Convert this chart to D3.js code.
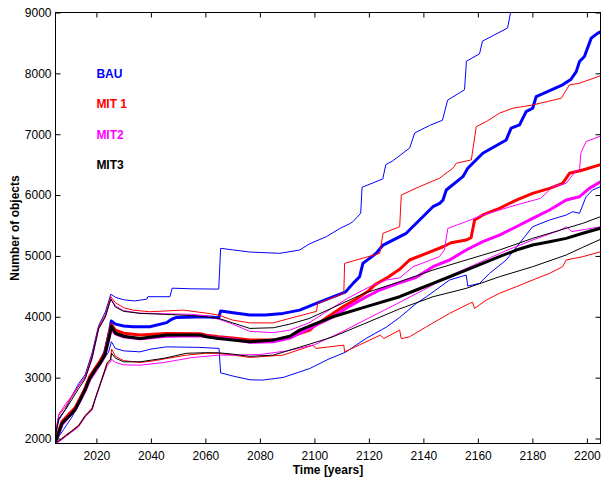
<!DOCTYPE html>
<html>
<head>
<meta charset="utf-8">
<script src="https://cdn.jsdelivr.net/npm/d3@7/dist/d3.min.js"></script>
<style>
  html, body { margin: 0; padding: 0; background: #fff; }
  svg { display: block; }
  text { font-family: "Liberation Sans", Arial, Helvetica, sans-serif; }
</style>
</head>
<body>
<svg id="chart" width="602" height="482"></svg>
<script>
// Simulated number of objects per scenario: mean (thick) and spread bounds (thin).
// Each series is a list of [year, objects].

const bauHigh = [[2005,2050],[2006.2,2300],[2008.6,2480],[2011,2700],[2013.5,2900],[2015.9,3050],[2018.4,3400],[2020.8,3850],[2023.3,4080],[2025.3,4370],[2027,4320],[2030,4280],[2034,4260],[2038.5,4290],[2038.9,4330],[2047,4330],[2047.8,4470],[2055,4460],[2064.9,4455],[2065.6,5125],[2070,5100],[2076.3,5064],[2087.3,5043],[2094.6,5097],[2098.3,5200],[2104.4,5316],[2109.3,5450],[2113,5530],[2114.1,5562],[2117,5700],[2117.5,6128],[2125.1,6265],[2126.2,6500],[2128.7,6560],[2135,6775],[2136.8,7020],[2142.3,7145],[2147,7230],[2148.9,7560],[2155.1,7730],[2155.8,8200],[2160.6,8320],[2161.7,8530],[2170.9,8745],[2172,9000],[2174,9100]];
const bauMean = [[2005,1950],[2007.4,2250],[2010.3,2400],[2012.1,2480],[2014,2640],[2015.8,2800],[2017.6,3000],[2019.5,3130],[2021.3,3260],[2023.1,3420],[2025,3800],[2025.5,3930],[2027,3880],[2030,3850],[2033.5,3836],[2039.6,3836],[2045.8,3904],[2047.6,3960],[2049.4,3990],[2060.4,4000],[2064.9,3984],[2065.6,4094],[2070.2,4066],[2076.3,4028],[2082,4030],[2088.5,4056],[2094.6,4110],[2100.7,4220],[2106.8,4329],[2111.5,4411],[2114.2,4549],[2116.6,4658],[2117.8,4878],[2122.7,5043],[2125.2,5179],[2133.7,5372],[2138.6,5590],[2143.5,5809],[2146,5864],[2147.2,5918],[2148.4,6084],[2154.5,6303],[2156.3,6441],[2161.8,6688],[2170.4,6906],[2172.2,7099],[2175.3,7153],[2177.7,7372],[2180.1,7427],[2181.4,7618],[2191.1,7811],[2194.2,7904],[2196.1,8029],[2197.3,8194],[2199.1,8276],[2201.6,8579],[2204,8661],[2205,8680]];
const bauLow = [[2005,1950],[2008,2150],[2011,2350],[2014,2600],[2017,2900],[2020,3150],[2023,3330],[2024.5,3420],[2025.5,3590],[2027,3480],[2030,3440],[2036,3424],[2040,3470],[2045.8,3506],[2058,3497],[2065,3480],[2065.6,3080],[2070.2,3025],[2076.3,2965],[2081,2960],[2088.5,3003],[2098.3,3150],[2105,3300],[2111.5,3420],[2119,3645],[2126.4,3830],[2131.3,3990],[2137.4,4220],[2141.1,4329],[2149.6,4604],[2155.7,4686],[2156.3,4505],[2160.6,4549],[2164.3,4714],[2170.4,4933],[2180.1,5480],[2186.3,5590],[2192.4,5672],[2194.8,5727],[2197.3,5700],[2199.7,5973],[2202.1,6084],[2205,6139]];

const mit1High = [[2005,2100],[2006.2,2380],[2008.6,2520],[2011,2680],[2013.5,2860],[2015.9,3020],[2018.4,3350],[2020.8,3830],[2023.3,4030],[2025.3,4330],[2027,4230],[2030,4150],[2033.3,4110],[2039.6,4083],[2051.9,4110],[2060.4,4060],[2064.9,4028],[2070,3946],[2076.3,3900],[2084.9,3900],[2091,3974],[2098.3,4060],[2100.8,4090],[2101.2,4220],[2110.8,4385],[2111.1,4878],[2124,5043],[2125.2,5372],[2131.3,5480],[2131.9,6000],[2138.6,6139],[2145.9,6276],[2150.8,6441],[2152.1,6523],[2157.6,6578],[2159.4,7125],[2163.1,7207],[2167.9,7345],[2172.8,7427],[2180.1,7481],[2190.6,7591],[2193.6,7811],[2197.3,7838],[2205,7960]];
const mit1Mean = [[2005,1970],[2007.4,2280],[2010.3,2420],[2012.1,2500],[2014,2660],[2015.8,2820],[2017.6,3020],[2019.5,3150],[2021.3,3270],[2023.1,3400],[2025,3780],[2025.5,3870],[2027,3780],[2030,3730],[2036,3700],[2045.8,3727],[2058,3720],[2060.4,3699],[2064.9,3671],[2070,3650],[2076.3,3617],[2084.9,3617],[2091,3671],[2098.3,3781],[2100,3850],[2105,4000],[2110,4150],[2115,4280],[2120,4430],[2122,4520],[2127,4650],[2131.3,4780],[2134.9,4933],[2141.1,5043],[2147.2,5151],[2150.2,5217],[2155.7,5261],[2157.5,5300],[2158.8,5590],[2161.8,5673],[2167.9,5783],[2174.1,5918],[2180.1,6028],[2186.3,6110],[2191.1,6193],[2193.6,6358],[2198.5,6412],[2205,6500]];
const mit1Low = [[2005,1930],[2006.2,1960],[2008.6,2050],[2011,2130],[2013.5,2220],[2015.9,2380],[2018.4,2500],[2019.5,2650],[2022,2980],[2024,3250],[2025.2,3300],[2025.6,3470],[2027,3350],[2030,3280],[2036,3250],[2040,3270],[2053,3370],[2060,3400],[2065,3400],[2070.2,3370],[2076.3,3332],[2088.5,3370],[2099.5,3534],[2100.5,3480],[2110.8,3534],[2111.1,3424],[2124.2,3699],[2125.5,3644],[2131.3,3781],[2131.9,3640],[2134.9,3671],[2141.1,3836],[2149.6,4056],[2157,4220],[2158,4240],[2158.8,4138],[2163.1,4275],[2167.9,4385],[2174.1,4494],[2180.1,4604],[2186.3,4714],[2191.1,4823],[2192.4,4933],[2198.5,4988],[2205,5069]];

const mit2High = [[2005,2080],[2006.2,2400],[2008.6,2560],[2011,2700],[2013.5,2870],[2015.9,3000],[2018.4,3300],[2020.8,3800],[2023.3,4000],[2025.3,4300],[2027,4180],[2030,4100],[2036,4060],[2045,4050],[2055,4040],[2060,4020],[2065,3960],[2070,3880],[2076.3,3760],[2084.9,3740],[2091,3780],[2098,3900],[2105,4100],[2112,4300],[2120.3,4494],[2126.4,4604],[2131.3,4640],[2136.2,4823],[2145.9,4988],[2147.7,5097],[2149,5454],[2155.7,5563],[2161.8,5673],[2174.1,5837],[2183,5946],[2187.6,6139],[2192.4,6193],[2196,6400],[2197.3,6412],[2197.8,6688],[2199.7,6879],[2205,6970]];
const mit2Mean = [[2005,1940],[2007.4,2230],[2010.3,2380],[2012.1,2460],[2014,2620],[2015.8,2780],[2017.6,2970],[2019.5,3100],[2021.3,3220],[2023.1,3360],[2025,3720],[2025.5,3800],[2027,3720],[2030,3670],[2036,3640],[2045.8,3680],[2058,3690],[2064.9,3650],[2070,3630],[2076.3,3580],[2084.9,3590],[2091,3650],[2096,3760],[2100,3850],[2106.8,4000],[2112,4150],[2119.1,4329],[2124,4440],[2131.3,4560],[2137.4,4650],[2143.5,4823],[2149.6,4933],[2155.7,5097],[2161.8,5234],[2167.9,5343],[2174.1,5480],[2180.1,5618],[2186.3,5755],[2192.4,5918],[2197.3,5973],[2200.9,6110],[2205,6220]];
const mit2Low = [[2005,1910],[2006.2,1944],[2008.6,2026],[2011,2109],[2013.5,2191],[2015.9,2355],[2018.4,2466],[2019.5,2630],[2022,2959],[2024,3200],[2025.2,3260],[2025.6,3300],[2027,3250],[2030,3210],[2036,3205],[2045,3250],[2055,3330],[2065,3370],[2070,3370],[2080,3380],[2090,3440],[2100,3540],[2110,3750],[2120,3980],[2131,4230],[2140,4440],[2150,4680],[2160,4880],[2170,5080],[2180,5260],[2190,5420],[2192.5,5480],[2194.5,5400],[2200,5440],[2205,5480]];

const mit3High = [[2005,2060],[2006.2,2330],[2008.6,2470],[2011,2640],[2013.5,2820],[2015.9,2980],[2018.4,3320],[2020.8,3800],[2023.3,4000],[2025.3,4290],[2027,4160],[2030,4090],[2036,4056],[2045,4040],[2055,4020],[2060,4000],[2064.9,3974],[2070,3900],[2076.3,3809],[2085,3820],[2091,3880],[2098,3970],[2106.8,4150],[2118,4380],[2131.3,4576],[2143.5,4768],[2155.7,4933],[2167.9,5097],[2180.1,5289],[2192.4,5454],[2198.5,5536],[2205,5645]];
const mit3Mean = [[2005,1950],[2007.4,2250],[2010.3,2383],[2012.1,2466],[2014,2630],[2015.8,2795],[2017.6,2990],[2019.5,3123],[2021.3,3233],[2023.1,3370],[2025,3727],[2025.5,3847],[2027,3730],[2030,3680],[2036,3645],[2045.8,3699],[2058,3700],[2060.4,3671],[2064.9,3645],[2070,3620],[2076.3,3589],[2084.9,3617],[2091,3680],[2094.6,3781],[2100,3880],[2106.8,4000],[2118.8,4164],[2131.3,4330],[2137.4,4440],[2143.5,4549],[2149.6,4658],[2155.7,4768],[2161.8,4878],[2167.9,4988],[2174.1,5097],[2180.1,5179],[2186.3,5234],[2192.4,5289],[2198.5,5372],[2205,5454]];
const mit3Low = [[2005,1930],[2006.2,1960],[2008.6,2040],[2011,2120],[2013.5,2210],[2015.9,2370],[2018.4,2480],[2019.5,2640],[2022,2970],[2024,3240],[2025.2,3290],[2025.6,3400],[2027,3320],[2030,3260],[2036,3260],[2045,3320],[2053,3400],[2060,3410],[2064.9,3408],[2070.2,3386],[2076.3,3350],[2084.9,3370],[2091,3452],[2098.3,3551],[2106.8,3671],[2118,3880],[2131.3,4130],[2143.5,4329],[2155.7,4467],[2167.9,4658],[2180.1,4823],[2192.4,5015],[2198.5,5142],[2205,5273]];

const scenarioNames = ["BAU", "MIT 1", "MIT2", "MIT3"];
const xTicks = [2020, 2040, 2060, 2080, 2100, 2120, 2140, 2160, 2180, 2200];
const yTicks = [2000, 3000, 4000, 5000, 6000, 7000, 8000, 9000];

const scenarios = [
  { name: scenarioNames[0], color: "#0000ff", low: bauLow, high: bauHigh, mean: bauMean },
  { name: scenarioNames[1], color: "#ff0000", low: mit1Low, high: mit1High, mean: mit1Mean },
  { name: scenarioNames[2], color: "#ff00ff", low: mit2Low, high: mit2High, mean: mit2Mean },
  { name: scenarioNames[3], color: "#000000", low: mit3Low, high: mit3High, mean: mit3Mean }
];

const plotLeft = 55.5, plotRight = 600.5, plotTop = 12.5, plotBottom = 443.5;
const svg = d3.select("#chart");

const x = d3.scaleLinear().domain([2005, 2205]).range([plotLeft, plotRight]);
const y = d3.scaleLinear().domain([1918, 9000]).range([plotBottom, plotTop]);

svg.append("defs").append("clipPath").attr("id", "plot-clip")
  .append("rect").attr("x", plotLeft).attr("y", plotTop)
  .attr("width", plotRight - plotLeft).attr("height", plotBottom - plotTop);

const line = d3.line().x(d => x(d[0])).y(d => y(d[1]));
const plot = svg.append("g").attr("clip-path", "url(#plot-clip)");

scenarios.forEach(s => {
  [s.low, s.high].forEach(series => {
    plot.append("path").datum(series)
      .attr("fill", "none").attr("stroke", s.color)
      .attr("stroke-width", 1).attr("stroke-linejoin", "round")
      .attr("d", line);
  });
  plot.append("path").datum(s.mean)
    .attr("fill", "none").attr("stroke", s.color)
    .attr("stroke-width", 3).attr("stroke-linejoin", "round")
    .attr("d", line);
});

// Axes with inward ticks on all four sides
const tickLen = 5;
const axisFont = g => g.selectAll("text")
  .attr("font-family", "'Liberation Sans', Arial, Helvetica, sans-serif")
  .attr("font-size", 12).attr("fill", "#000");

svg.append("g").attr("transform", `translate(0,${plotBottom})`)
  .call(d3.axisBottom(x).tickValues(xTicks).tickFormat(d3.format("d"))
    .tickSizeInner(-tickLen).tickSizeOuter(0).tickPadding(7.5))
  .call(axisFont).call(g => g.select(".domain").remove());

svg.append("g").attr("transform", `translate(0,${plotTop})`)
  .call(d3.axisTop(x).tickValues(xTicks).tickFormat("")
    .tickSizeInner(-tickLen).tickSizeOuter(0))
  .call(g => g.select(".domain").remove());

svg.append("g").attr("transform", `translate(${plotLeft},0)`)
  .call(d3.axisLeft(y).tickValues(yTicks).tickFormat(d3.format("d"))
    .tickSizeInner(-tickLen).tickSizeOuter(0).tickPadding(4))
  .call(axisFont).call(g => g.select(".domain").remove());

svg.append("g").attr("transform", `translate(${plotRight},0)`)
  .call(d3.axisRight(y).tickValues(yTicks).tickFormat("")
    .tickSizeInner(-tickLen).tickSizeOuter(0))
  .call(g => g.select(".domain").remove());

svg.append("rect")
  .attr("x", plotLeft).attr("y", plotTop)
  .attr("width", plotRight - plotLeft).attr("height", plotBottom - plotTop)
  .attr("fill", "none").attr("stroke", "#000").attr("stroke-width", 1);

// Axis titles
svg.append("text")
  .attr("x", (plotLeft + plotRight) / 2).attr("y", 474)
  .attr("text-anchor", "middle").attr("font-size", 12).attr("font-weight", "bold")
  .text("Time [years]");

svg.append("text")
  .attr("transform", `translate(18.5,${(plotTop + plotBottom) / 2}) rotate(-90)`)
  .attr("text-anchor", "middle").attr("font-size", 12).attr("font-weight", "bold")
  .text("Number of objects");

// Scenario labels, stacked inside the plot
scenarios.forEach((s, i) => {
  svg.append("text")
    .attr("x", x(2020)).attr("y", y(8000 - 500 * i) + 4.5)
    .attr("fill", s.color).attr("font-size", 12).attr("font-weight", "bold")
    .text(s.name);
});
</script>
</body>
</html>
